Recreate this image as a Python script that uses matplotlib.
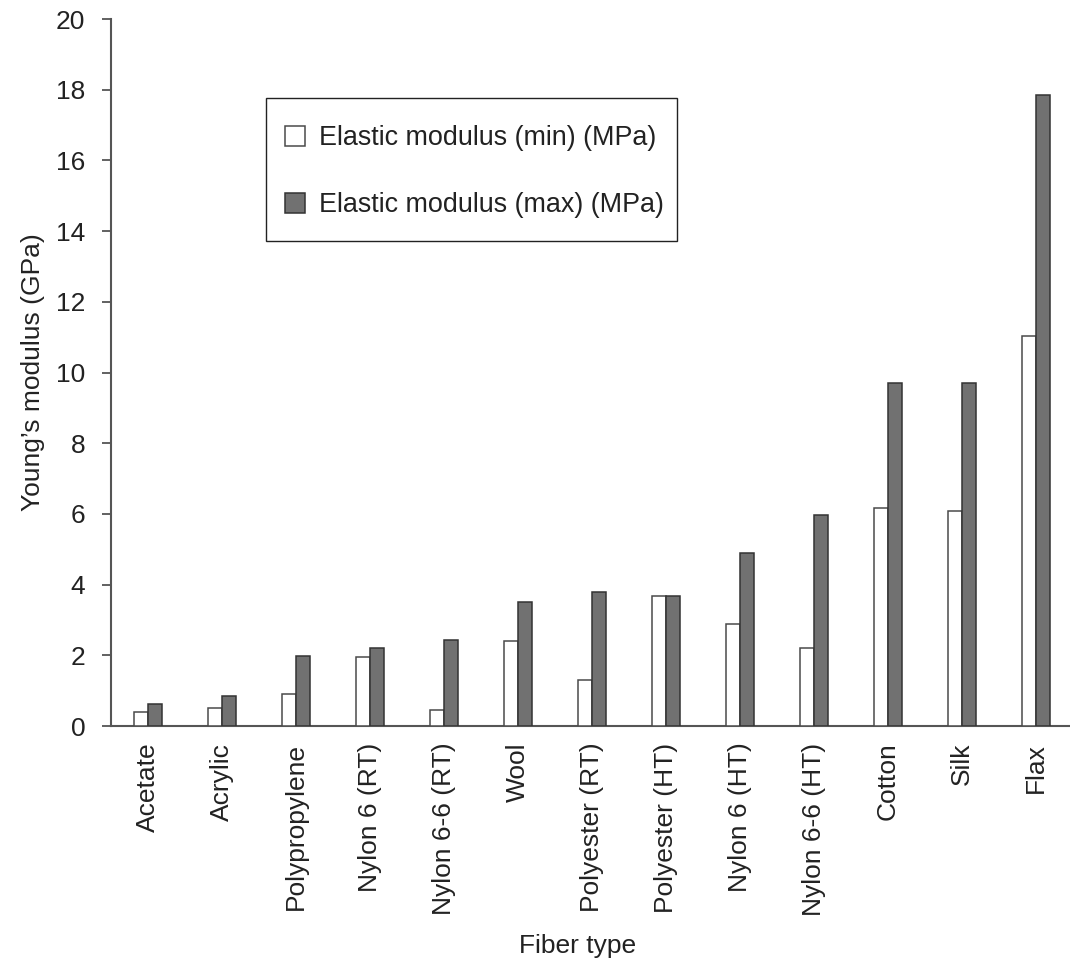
import matplotlib
matplotlib.use("Agg")
import matplotlib.pyplot as plt
from matplotlib.patches import Rectangle
import numpy as np

fibers = ["Acetate", "Acrylic", "Polypropylene", "Nylon 6 (RT)", "Nylon 6-6 (RT)",
          "Wool", "Polyester (RT)", "Polyester (HT)", "Nylon 6 (HT)", "Nylon 6-6 (HT)",
          "Cotton", "Silk", "Flax"]
modulus_min = [0.40, 0.50, 0.90, 1.94, 0.46, 2.41, 1.30, 3.69, 2.89, 2.21, 6.17, 6.08, 11.03]
modulus_max = [0.63, 0.84, 1.98, 2.21, 2.44, 3.52, 3.78, 3.69, 4.90, 5.98, 9.70, 9.70, 17.85]
yticks = [0, 2, 4, 6, 8, 10, 12, 14, 16, 18, 20]

plt.rcParams['font.family'] = ['Liberation Sans', 'DejaVu Sans']
text_color = '#222222'
axis_color = '#555555'
fs = 19

W, H = 1070, 963
fig = plt.figure(figsize=(W / 100, H / 100), dpi=100)
ax = fig.add_axes([111 / W, 1 - 726 / H, 959 / W, 707 / H])

x = np.arange(len(fibers))
w = 0.19
ax.bar(x - w / 2, modulus_min, width=w, color='white', edgecolor='#4a4a4a',
       linewidth=1.1, label='Elastic modulus (min) (MPa)', zorder=3)
ax.bar(x + w / 2, modulus_max, width=w, color='#717171', edgecolor='#333333',
       linewidth=1.1, label='Elastic modulus (max) (MPa)', zorder=3)

ax.set_xlim(-0.5, -0.5 + 959 / 74)
ax.set_ylim(0, 20)
ax.set_yticks(yticks)
ax.set_yticklabels([str(t) for t in yticks])
ax.set_xticks(x)
ax.set_xticklabels(fibers, rotation=90, va='top', ha='center')

for s in ['top', 'right']:
    ax.spines[s].set_visible(False)
for s in ['left', 'bottom']:
    ax.spines[s].set_color(axis_color)
    ax.spines[s].set_linewidth(1.5)

ax.tick_params(axis='y', direction='out', length=6.5, width=1.3, color=axis_color,
               labelsize=fs, labelcolor=text_color, pad=12)
ax.tick_params(axis='x', length=0, labelsize=fs, labelcolor=text_color, pad=12)

ax.set_ylabel("Young\u2019s modulus (GPa)", fontsize=fs, color=text_color, labelpad=8)
ax.set_xlabel("Fiber type", fontsize=fs, color=text_color)
ax.xaxis.set_label_coords(0.486, -0.294)

# Legend entries without their own frame; the box is drawn separately
leg = ax.legend(loc='upper left', bbox_to_anchor=(285 / W, 1 - 125 / H),
                bbox_transform=fig.transFigure, fontsize=19.4, frameon=False,
                handlelength=0.76, handleheight=0.76, handletextpad=0.5,
                labelspacing=1.52, borderpad=0, borderaxespad=0,
                labelcolor=text_color)
fig.patches.append(Rectangle((266 / W, 1 - 241 / H), 411 / W, 143 / H,
                             transform=fig.transFigure, facecolor='none',
                             edgecolor='#222222', linewidth=1.0, zorder=5))

fig.savefig("out.png", dpi=100, facecolor='white')
